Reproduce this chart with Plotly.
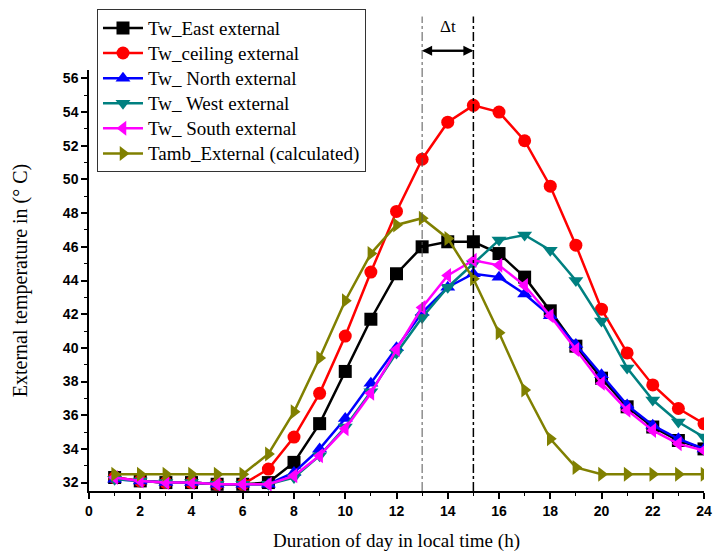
import plotly.graph_objects as go

hours = list(range(1, 25))
tw_east = [32.3, 32.1, 32.0, 32.0, 31.9, 31.9, 32.0, 33.2, 35.5, 38.6, 41.7, 44.4,
           46.0, 46.3, 46.3, 45.6, 44.2, 42.2, 40.1, 38.2, 36.5, 35.3, 34.5, 34.0]
tw_ceiling = [32.3, 32.1, 32.0, 32.0, 31.9, 31.9, 32.8, 34.7, 37.3, 40.7, 44.5, 48.1,
              51.2, 53.4, 54.4, 54.0, 52.3, 49.6, 46.1, 42.3, 39.7, 37.8, 36.4, 35.5]
tw_north = [32.2, 32.1, 32.0, 32.0, 31.9, 31.9, 31.9, 32.6, 34.0, 35.8, 37.9, 40.0,
            42.1, 43.6, 44.4, 44.2, 43.2, 41.9, 40.2, 38.4, 36.6, 35.4, 34.6, 34.0]
tw_west = [32.2, 32.1, 32.0, 32.0, 31.9, 31.9, 31.9, 32.3, 33.6, 35.3, 37.4, 39.7,
           41.8, 43.6, 45.0, 46.4, 46.7, 45.8, 44.0, 41.6, 38.8, 36.9, 35.6, 34.7]
tw_south = [32.3, 32.1, 32.0, 32.0, 31.9, 31.9, 31.9, 32.4, 33.6, 35.2, 37.3, 39.9,
            42.4, 44.3, 45.2, 44.9, 43.7, 41.9, 39.9, 37.9, 36.3, 35.1, 34.3, 33.9]
tamb = [32.5, 32.5, 32.5, 32.5, 32.5, 32.5, 33.7, 36.2, 39.4, 42.8, 45.6, 47.3,
        47.7, 46.5, 44.1, 40.9, 37.5, 34.6, 32.9, 32.5, 32.5, 32.5, 32.5, 32.5]

series = [
    ("Tw_East external", tw_east, "#000000", "square"),
    ("Tw_ceiling external", tw_ceiling, "#ff0000", "circle"),
    ("Tw_ North external", tw_north, "#0000ff", "triangle-up"),
    ("Tw_ West external", tw_west, "#008080", "triangle-down"),
    ("Tw_ South external", tw_south, "#ff00ff", "triangle-left"),
    ("Tamb_External (calculated)", tamb, "#808000", "triangle-right"),
]

fig = go.Figure()
for name, vals, col, sym in series:
    fig.add_trace(go.Scatter(
        x=hours, y=vals, name='<span style="font-size:19px">' + name + '</span>',
        mode="lines+markers",
        line=dict(color=col, width=2.5),
        marker=dict(symbol=sym, size=13, color=col),
    ))

# vertical reference lines at 13 h and 15 h
fig.add_shape(type="line", xref="x", yref="paper", x0=13, x1=13, y0=0, y1=1.127,
              line=dict(color="#555555", width=1, dash="dashdot"))
fig.add_shape(type="line", xref="x", yref="paper", x0=15, x1=15, y0=0, y1=1.127,
              line=dict(color="#000000", width=1.5, dash="dashdot"))
# double arrow for delta t
fig.add_annotation(x=15, y=1.046, ax=13, ay=0, xref="x", yref="paper",
                   axref="x", ayref="pixel", showarrow=True, arrowhead=2,
                   arrowsize=1, arrowwidth=2, arrowcolor="black", text="")
fig.add_annotation(x=13, y=1.046, ax=15, ay=0, xref="x", yref="paper",
                   axref="x", ayref="pixel", showarrow=True, arrowhead=2,
                   arrowsize=1, arrowwidth=2, arrowcolor="black", text="")
fig.add_annotation(x=14, y=1.104, xref="x", yref="paper", yanchor="middle", text="Δt",
                   showarrow=False, font=dict(family="Liberation Serif", size=17, color="black"))

fig.update_layout(
    width=713, height=553,
    margin=dict(l=89, r=9, t=66, b=62),
    plot_bgcolor="white", paper_bgcolor="white",
    showlegend=True,
    legend=dict(x=0.013, y=1.144, xanchor="left", yanchor="top",
                bgcolor="white", bordercolor="#333333", borderwidth=1,
                font=dict(family="Liberation Serif", size=17, color="black"),
                tracegroupgap=0, itemwidth=40),
    xaxis=dict(range=[0, 24], tick0=0, dtick=2, showline=True, linecolor="black",
               linewidth=1.5, ticks="outside", ticklen=6, tickwidth=1.5, tickcolor="black",
               minor=dict(dtick=1, ticks="outside", ticklen=3, tickcolor="black", tickwidth=1.2),
               showgrid=False, zeroline=False, automargin=False,
               tickfont=dict(family="Liberation Sans", size=14, color="black", weight="bold"),
               title=dict(text="Duration of day in local time (h)", standoff=16,
                          font=dict(family="Liberation Serif", size=19, color="black"))),
    yaxis=dict(range=[31.5, 56.5], tick0=32, dtick=2, showline=True, linecolor="black",
               linewidth=1.5, ticks="outside", ticklen=6, tickwidth=1.5, tickcolor="black",
               minor=dict(dtick=1, ticks="outside", ticklen=3, tickcolor="black", tickwidth=1.2),
               showgrid=False, zeroline=False, automargin=False,
               tickfont=dict(family="Liberation Sans", size=14, color="black", weight="bold"),
               title=dict(text="External temperature in (° C)", standoff=30,
                          font=dict(family="Liberation Serif", size=20, color="black"))),
)

fig.write_html("out.html")
